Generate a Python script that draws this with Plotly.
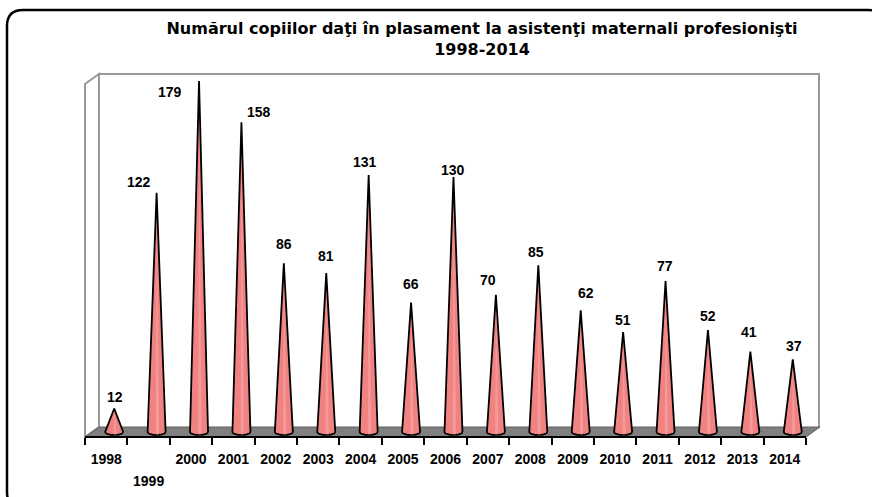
import numpy as np
import plotly.graph_objects as go

# ---- data ----
years = ["1998", "1999", "2000", "2001", "2002", "2003", "2004", "2005", "2006",
         "2007", "2008", "2009", "2010", "2011", "2012", "2013", "2014"]
values = [12, 122, 179, 158, 86, 81, 131, 66, 130, 70, 85, 62, 51, 77, 52, 41, 37]
title_line1 = "Numărul copiilor daţi în plasament la asistenţi maternali profesionişti"
title_line2 = "1998-2014"

# ---- style / layout constants ----
W, H = 872, 497
L, R, T, B = 85, 53, 74, 60          # plot area pixels: x 85..819, y 74..437
PW, PH = W - L - R, H - T - B
px_per_cat = 42.41
px_per_unit = 1.961
x_range = [-0.5, -0.5 + PW / px_per_cat]
y_bottom = -5 / px_per_unit
y_range = [y_bottom, y_bottom + PH / px_per_unit]
depth_shift = 8 / px_per_cat          # 3D depth offset of cones
half_w = 9 / px_per_cat
ell_ry = 3 / px_per_unit
label_dx = [1, -18, -29, 18, 0, 0, -4, 0, 0, -8, -2, 5, 0, -1, 0, -1, 1]
label_dy = [11.5, 11, -11, 10, 19, 17, 13, 19, 7, 15, 13, 17, 12, 15, 14, 20, 13]
label_row = [0, 1, 0, 0, 0, 0, 0, 0, 0, 0, 0, 0, 0, 0, 0, 0, 0]
cone_fill = "#F08282"
cone_hi = "#F9A9A9"
FONT = "Liberation Sans, Arial, sans-serif"
TITLE_FONT = "DejaVu Sans, sans-serif"


def pxx(x):
    return (x - L) / PW


def pxy(y):
    return (H - B - y) / PH


fig = go.Figure()

# cones
t = np.linspace(0, -np.pi, 25)
for i, v in enumerate(values):
    cx = i + depth_shift
    xs = list(cx + half_w * np.cos(t)) + [cx, cx + half_w]
    ys = list(ell_ry * np.sin(t)) + [v, 0]
    fig.add_trace(go.Scatter(x=xs, y=ys, mode="lines", fill="toself",
                             fillcolor=cone_fill,
                             line=dict(color="black", width=1.8),
                             hoverinfo="skip", showlegend=False))
    # highlight stripe
    hx = [cx - 0.02, cx + 0.06, cx + 0.005, cx - 0.02]
    hy = [-ell_ry * 0.8, -ell_ry * 0.8, v * 0.9, -ell_ry * 0.8]
    fig.add_trace(go.Scatter(x=hx, y=hy, mode="lines", fill="toself",
                             fillcolor=cone_hi, line=dict(width=0),
                             opacity=0.6, hoverinfo="skip", showlegend=False))
    fig.add_annotation(x=cx, y=v, text=f"<b>{v}</b>", showarrow=False,
                       xshift=label_dx[i], yshift=label_dy[i],
                       font=dict(family=FONT, size=14, color="black"),
                       xanchor="center", yanchor="middle")

shapes = []
wall = dict(color="#9a9a9a", width=2)
# back wall
shapes.append(dict(type="path", xref="paper", yref="paper",
                   path=f"M {pxx(99)},{pxy(427)} L {pxx(99)},{pxy(74)} L {pxx(819)},{pxy(74)} L {pxx(819)},{pxy(427)}",
                   line=wall, layer="below"))
# left wall
shapes.append(dict(type="path", xref="paper", yref="paper",
                   path=f"M {pxx(85)},{pxy(437)} L {pxx(85)},{pxy(84)} L {pxx(99)},{pxy(74)} L {pxx(99)},{pxy(427)} Z",
                   line=wall, fillcolor="white", layer="below"))
# floor
shapes.append(dict(type="path", xref="paper", yref="paper",
                   path=f"M {pxx(85)},{pxy(437)} L {pxx(99)},{pxy(427)} L {pxx(820)},{pxy(427)} L {pxx(806)},{pxy(437)} Z",
                   line=dict(color="#606060", width=1), fillcolor="#7f7f7f", layer="below"))
# front axis line
shapes.append(dict(type="line", xref="paper", yref="paper",
                   x0=pxx(85), x1=pxx(806), y0=pxy(437), y1=pxy(437),
                   line=dict(color="black", width=2)))
# outer rounded frame
r = 16
x0f, y0f, x1f, y1f = 7, 10, 884, 508
frame = (f"M {pxx(x0f + r)},{pxy(y0f)} L {pxx(x1f - r)},{pxy(y0f)} "
         f"Q {pxx(x1f)},{pxy(y0f)} {pxx(x1f)},{pxy(y0f + r)} "
         f"L {pxx(x1f)},{pxy(y1f - r)} Q {pxx(x1f)},{pxy(y1f)} {pxx(x1f - r)},{pxy(y1f)} "
         f"L {pxx(x0f + r)},{pxy(y1f)} Q {pxx(x0f)},{pxy(y1f)} {pxx(x0f)},{pxy(y1f - r)} "
         f"L {pxx(x0f)},{pxy(y0f + r)} Q {pxx(x0f)},{pxy(y0f)} {pxx(x0f + r)},{pxy(y0f)} Z")
shapes.append(dict(type="path", xref="paper", yref="paper", path=frame,
                   line=dict(color="black", width=2.5)))

row0_vals = [i for i in range(len(years)) if label_row[i] == 0]
row1_vals = [i for i in range(len(years)) if label_row[i] == 1]

fig.update_layout(
    width=W, height=H,
    margin=dict(l=L, r=R, t=T, b=B, pad=0, autoexpand=False),
    paper_bgcolor="white", plot_bgcolor="white",
    shapes=shapes,
    title=dict(text=f"<b>{title_line1}<br>{title_line2}</b>",
               x=482 / W, xanchor="center",
               y=1 - 34 / H, yanchor="top", automargin=False,
               font=dict(family=TITLE_FONT, size=16, color="black")),
    xaxis=dict(range=x_range, showgrid=False, zeroline=False, showline=False,
               automargin=False,
               tickvals=row0_vals, ticktext=[f"<b>{years[i]}</b>" for i in row0_vals],
               ticks="", tickfont=dict(family=FONT, size=14, color="black"),
               ticklabelstandoff=12,
               minor=dict(tickvals=[i - 0.5 for i in range(len(years) + 1)],
                          ticks="outside", ticklen=7, tickwidth=2, tickcolor="black")),
    xaxis2=dict(range=x_range, overlaying="x", anchor="y", side="bottom",
                showgrid=False, zeroline=False, showline=False, automargin=False,
                tickvals=row1_vals, ticktext=[f"<b>{years[i]}</b>" for i in row1_vals],
                ticks="", tickfont=dict(family=FONT, size=14, color="black"),
                ticklabelstandoff=34),
    yaxis=dict(range=y_range, visible=False, showgrid=False, zeroline=False,
               automargin=False),
)
fig.add_trace(go.Scatter(x=[None], y=[None], xaxis="x2", showlegend=False))

fig.write_html("out.html", config={"displayModeBar": False},
               post_script="document.body.style.margin='0px';")
